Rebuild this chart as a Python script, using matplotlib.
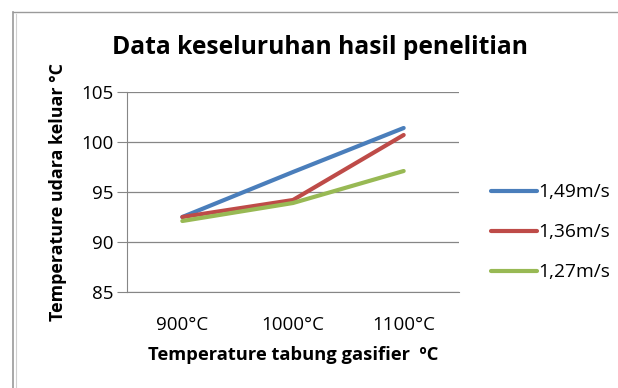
import matplotlib
matplotlib.use("Agg")
import matplotlib.pyplot as plt
from matplotlib.lines import Line2D

plt.rcParams['font.family'] = ['Open Sans', 'DejaVu Sans']

categories = ['900°C', '1000°C', '1100°C']
series_names = ['1,49m/s', '1,36m/s', '1,27m/s']
v149 = [92.5, 97.0, 101.4]
v136 = [92.5, 94.2, 100.7]
v127 = [92.1, 93.9, 97.1]
colors = ['#4A7EBB', '#BE4B48', '#98B954']

fig = plt.figure(figsize=(6.18, 3.88), dpi=100)
fig.patch.set_facecolor('white')

# window border on the left and top
fig.add_artist(Line2D([13/618, 13/618], [0, 1 - 12/388], color='#9a9a9a', lw=1.2))
fig.add_artist(Line2D([16/618, 16/618], [0, 1 - 14/388], color='#d0d0d0', lw=0.8))
fig.add_artist(Line2D([13/618, 1], [1 - 12/388, 1 - 12/388], color='#9a9a9a', lw=1.0))

ax = fig.add_axes([127/618, 1 - 292/388, 332/618, 200/388])
x = range(len(categories))
for vals, name, c in zip([v149, v136, v127], series_names, colors):
    ax.plot(x, vals, color=c, lw=3, label=name, solid_capstyle='round')

ax.set_xlim(-0.5, 2.5)
ax.set_ylim(85, 105)
ax.set_yticks([85, 90, 95, 100, 105])
ax.set_xticks(list(x))
ax.set_xticklabels(categories)
ax.yaxis.grid(True, color='#868686', lw=0.9)
ax.set_axisbelow(True)
for s in ['top', 'right']:
    ax.spines[s].set_visible(False)
ax.spines['left'].set_color('#868686')
ax.spines['bottom'].set_color('#868686')
ax.tick_params(axis='y', length=7, color='#868686', labelsize=13.5, pad=3)
ax.tick_params(axis='x', length=0, labelsize=13.5, pad=17)

ax.set_ylabel('Temperature udara keluar °C', fontsize=12.9, fontweight='bold', labelpad=10)
ax.set_xlabel('Temperature tabung gasifier  ºC', fontsize=13.2, fontweight='bold', labelpad=9)
fig.text(320/618, 1 - 48/388, 'Data keseluruhan hasil penelitian', ha='center', va='center',
         fontsize=17.7, fontweight='bold')

ax.legend(loc='center left', bbox_to_anchor=(1.096, 0.298), frameon=False, fontsize=13.8,
          handlelength=2.4, handletextpad=0.05, labelspacing=1.15,
          borderaxespad=0, borderpad=0)

fig.savefig('out.png', dpi=100)
